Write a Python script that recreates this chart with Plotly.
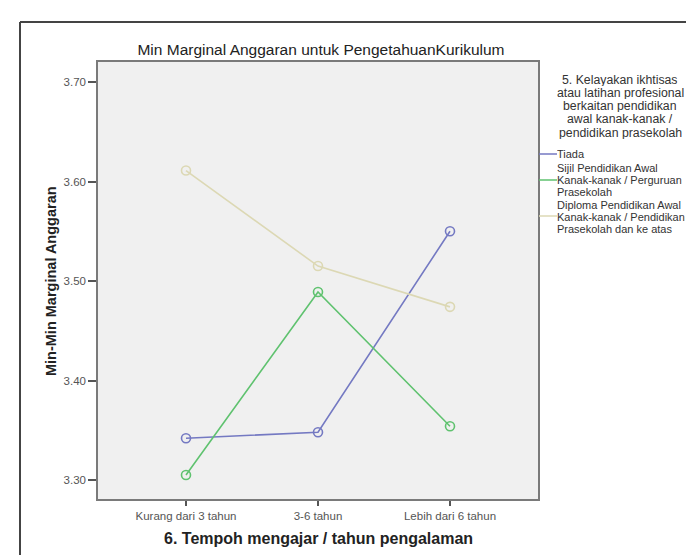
import plotly.graph_objects as go

categories = ["Kurang dari 3 tahun", "3-6 tahun", "Lebih dari 6 tahun"]
series_names = [
    ["Tiada"],
    ["Sijil Pendidikan Awal", "Kanak-kanak / Perguruan", "Prasekolah"],
    ["Diploma Pendidikan Awal", "Kanak-kanak / Pendidikan", "Prasekolah dan ke atas"],
]
legend_title = ["5. Kelayakan ikhtisas", "atau latihan profesional", "berkaitan pendidikan",
                "awal kanak-kanak /", "pendidikan prasekolah"]
tiada = [3.342, 3.348, 3.550]
sijil = [3.305, 3.489, 3.354]
diploma = [3.611, 3.515, 3.474]
y_ticks = [3.30, 3.40, 3.50, 3.60, 3.70]
y_ticklabels = ["3.30", "3.40", "3.50", "3.60", "3.70"]

colors = ["#7479c2", "#5fc26f", "#dcd8b4"]
values = [tiada, sijil, diploma]

W, H = 694, 555
L, R, T, B = 90, 530, 54, 491

def px(x):
    return (x - L) / (R - L)

def py(y):
    return (B - y) / (B - T)

fig = go.Figure()
for vals, col in zip(values, colors):
    fig.add_trace(go.Scatter(
        x=[0, 1, 2], y=vals, mode="lines+markers",
        line=dict(color=col, width=1.6),
        marker=dict(symbol="circle-open", size=9, color=col, line=dict(width=1.6, color=col)),
        showlegend=False, hoverinfo="skip",
    ))

font_family = "Liberation Sans, Arial, sans-serif"

fig.update_layout(
    width=W, height=H,
    margin=dict(l=L, r=W - R, t=T, b=H - B, pad=0),
    paper_bgcolor="white",
    plot_bgcolor="#f0f0f0",
    font=dict(family=font_family, color="#333"),
    title=dict(text="Min Marginal Anggaran untuk PengetahuanKurikulum",
               x=px(313), xref="paper", xanchor="center",
               y=1 - 42 / H, yanchor="middle",
               font=dict(size=15.5, color="#222")),
    showlegend=False,
)
fig.update_xaxes(
    range=[-2 / 3, 2 + 2 / 3],
    tickmode="array", tickvals=[0, 1, 2], ticktext=categories,
    ticks="outside", ticklen=5, tickwidth=1.5, tickcolor="#555",
    showline=True, linecolor="#7a7a7a", linewidth=1.5, mirror=True,
    showgrid=False, zeroline=False,
    tickfont=dict(size=11.5, color="#555"),
)
fig.update_yaxes(
    range=[3.30 - 19 / 995, 3.70 + 20 / 995],
    tickmode="array", tickvals=y_ticks, ticktext=y_ticklabels,
    ticks="outside", ticklen=8, tickwidth=1.5, tickcolor="#555",
    showline=True, linecolor="#7a7a7a", linewidth=1.5, mirror=True,
    showgrid=False, zeroline=False,
    tickfont=dict(size=11.5, color="#555"),
)

# axis titles
fig.add_annotation(xref="paper", yref="paper", x=px(310), y=py(530),
                   xanchor="center", yanchor="middle", showarrow=False,
                   text="<b>6. Tempoh mengajar / tahun pengalaman</b>",
                   font=dict(size=16, color="#222", family=font_family))
fig.add_annotation(xref="paper", yref="paper", x=px(43), y=py(273),
                   xanchor="center", yanchor="middle", showarrow=False, textangle=-90,
                   text="<b>Min-Min Marginal Anggaran</b>",
                   font=dict(size=14.5, color="#222", family=font_family))

# outer frame (left and top edges)
fig.add_shape(type="line", xref="paper", yref="paper",
              x0=px(12), x1=px(12), y0=py(14), y1=py(560),
              line=dict(color="#444", width=2))
fig.add_shape(type="line", xref="paper", yref="paper",
              x0=px(12), x1=px(700), y0=py(14), y1=py(14),
              line=dict(color="#444", width=2))

# legend title
for i, line in enumerate(legend_title):
    fig.add_annotation(
        xref="paper", yref="paper", x=px(612), y=py(71 + 13.3 * i),
        xanchor="center", yanchor="middle", text=line, showarrow=False,
        height=13, borderpad=0,
        font=dict(size=12.3, color="#333", family=font_family),
    )

# legend entries
legend_line_y = [146, 172, 208]
legend_text_y = [[146], [160, 172, 184], [197, 209, 221]]
for names, col, ly, tys in zip(series_names, colors, legend_line_y, legend_text_y):
    fig.add_shape(type="line", xref="paper", yref="paper",
                  x0=px(531), x1=px(549), y0=py(ly), y1=py(ly),
                  line=dict(color=col, width=1.5))
    for nm, ty in zip(names, tys):
        fig.add_annotation(
            xref="paper", yref="paper", x=px(548), y=py(ty),
            xanchor="left", yanchor="middle", text=nm, showarrow=False,
            height=12, borderpad=0,
            font=dict(size=11, color="#333", family=font_family),
        )

fig.write_html("out.html")
